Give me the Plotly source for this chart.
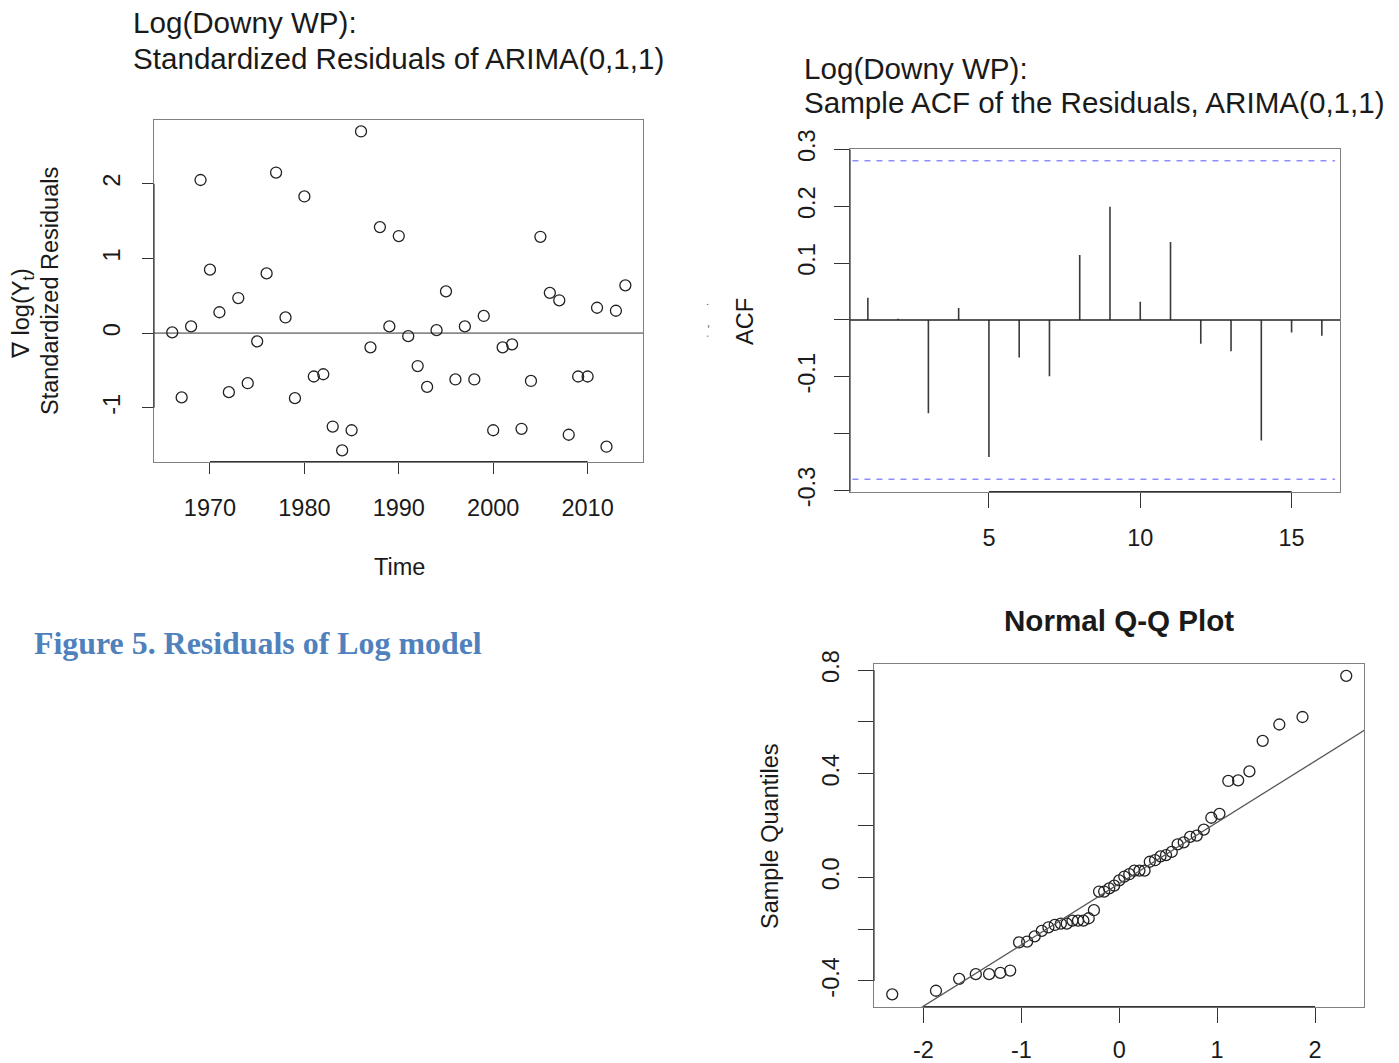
import plotly.graph_objects as go
import numpy as np
from statistics import NormalDist

# ---------------- data ----------------
years = list(range(1966, 2015))
std_resid = [0.01, -0.86, 0.09, 2.05, 0.85, 0.28, -0.79, 0.47, -0.67, -0.11,
             0.80, 2.15, 0.21, -0.87, 1.83, -0.58, -0.55, -1.25, -1.57, -1.30,
             2.70, -0.19, 1.42, 0.09, 1.30, -0.04, -0.44, -0.72, 0.04, 0.56,
             -0.62, 0.09, -0.62, 0.23, -1.30, -0.19, -0.15, -1.28, -0.64, 1.29,
             0.54, 0.44, -1.36, -0.58, -0.58, 0.34, -1.52, 0.30, 0.64]

acf_lags = list(range(1, 17))
acf_vals = [0.039, 0.002, -0.164, 0.021, -0.241, -0.066, -0.099, 0.114,
            0.199, 0.032, 0.137, -0.042, -0.055, -0.212, -0.022, -0.028]
acf_bound = 0.28

qq_sample = [-0.452, -0.438, -0.392, -0.374, -0.374, -0.369, -0.360, -0.251,
             -0.248, -0.228, -0.207, -0.193, -0.184, -0.179, -0.179, -0.167,
             -0.167, -0.167, -0.158, -0.127, -0.055, -0.055, -0.043, -0.032,
             -0.012, 0.003, 0.012, 0.026, 0.026, 0.026, 0.060, 0.066, 0.081,
             0.086, 0.098, 0.127, 0.135, 0.156, 0.161, 0.184, 0.230, 0.245,
             0.372, 0.374, 0.409, 0.527, 0.590, 0.619, 0.778]

x1_ticks = [1970, 1980, 1990, 2000, 2010]
x1_text = ["1970", "1980", "1990", "2000", "2010"]
y1_ticks = [-1, 0, 1, 2]
y1_text = ["-1", "0", "1", "2"]
x2_ticks = [5, 10, 15]
x2_text = ["5", "10", "15"]
y2_ticks = [-0.3, -0.1, 0.1, 0.2, 0.3]
y2_text = ["-0.3", "-0.1", "0.1", "0.2", "0.3"]
y2_minor = 0.1
x3_ticks = [-2, -1, 0, 1, 2]
x3_text = ["-2", "-1", "0", "1", "2"]
y3_ticks = [-0.4, 0.0, 0.4, 0.8]
y3_text = ["-0.4", "0.0", "0.4", "0.8"]
y3_minor = 0.2

# ---------------- layout helpers ----------------
W, H = 1399, 1063
FONT = "Liberation Sans, Arial, Helvetica, sans-serif"
TXT = "#1a1a1a"
BOX = "#808080"
AX = "#333333"


def px(x):
    return x / W


def py(y):
    return 1 - y / H


# QQ computations (as qqnorm / qqline do)
n = len(qq_sample)
nd = NormalDist()
qq_sorted = sorted(qq_sample)
qq_theo = [nd.inv_cdf((i + 0.5) / n) for i in range(n)]
q25, q75 = np.percentile(qq_sorted, [25, 75])
t25, t75 = nd.inv_cdf(0.25), nd.inv_cdf(0.75)
slope = (q75 - q25) / (t75 - t25)
icpt = q25 - slope * t25

x1_range = [1964.07, 2015.9]
y1_range = [-1.718, 2.86]
x2_range = [0.41, 16.6]
y2_range = [-0.302, 0.300]
x3_range = [-2.505, 2.50]
y3_range = [-0.4996, 0.8236]

fig = go.Figure()

# panel 1: standardized residuals
fig.add_trace(go.Scatter(
    x=years, y=std_resid, mode="markers", xaxis="x", yaxis="y",
    marker=dict(symbol="circle-open", size=11, color="#222222",
                line=dict(width=1.3, color="#222222")),
    showlegend=False, hoverinfo="x+y"))

# panel 2: ACF spikes
sx, sy = [], []
for lag, v in zip(acf_lags, acf_vals):
    sx += [lag, lag, None]
    sy += [0, v, None]
fig.add_trace(go.Scatter(
    x=sx, y=sy, mode="lines", xaxis="x2", yaxis="y2",
    line=dict(color="#3a3a3a", width=1.6), showlegend=False, hoverinfo="skip"))

# panel 3: QQ
fig.add_trace(go.Scatter(
    x=qq_theo, y=qq_sorted, mode="markers", xaxis="x3", yaxis="y3",
    marker=dict(symbol="circle-open", size=11, color="#222222",
                line=dict(width=1.3, color="#222222")),
    showlegend=False))
fig.add_trace(go.Scatter(
    x=[x3_range[0] - 1, x3_range[1] + 1],
    y=[icpt + slope * (x3_range[0] - 1), icpt + slope * (x3_range[1] + 1)],
    mode="lines", xaxis="x3", yaxis="y3",
    line=dict(color="#555555", width=1.3), showlegend=False, hoverinfo="skip"))


def axis(domain, rng, tickvals, ticktext, angle=None, ticklen=11, standoff=20, minor=None):
    d = dict(domain=domain, range=rng, tickmode="array", tickvals=tickvals,
             ticktext=ticktext,
             ticks="outside", ticklen=ticklen, tickwidth=1.2, tickcolor=AX,
             showline=True, linecolor=BOX, linewidth=1.3, mirror=True,
             showgrid=False, zeroline=False, automargin=False,
             tickfont=dict(family=FONT, size=23.5, color=TXT),
             ticklabelstandoff=standoff, fixedrange=True)
    if angle is not None:
        d["tickangle"] = angle
    if minor is not None:
        d["minor"] = dict(tickmode="linear", tick0=0, dtick=minor, ticks="outside",
                          ticklen=ticklen, tickwidth=1.2, tickcolor=AX, showgrid=False)
    return d


fig.update_layout(
    width=W, height=H, autosize=False,
    margin=dict(l=0, r=0, t=0, b=0),
    paper_bgcolor="white", plot_bgcolor="white",
    font=dict(family=FONT, color=TXT),
    xaxis=axis([px(154), px(643.3)], x1_range, x1_ticks, x1_text, ticklen=11, standoff=14),
    yaxis=axis([py(461.5), py(119.5)], y1_range, y1_ticks, y1_text, angle=-90, ticklen=11, standoff=12),
    xaxis2=dict(axis([px(850), px(1340)], x2_range, x2_ticks, x2_text, ticklen=15, standoff=10), anchor="y2"),
    yaxis2=dict(axis([py(491.7), py(149.3)], y2_range, y2_ticks, y2_text, angle=-90, ticklen=15,
                     standoff=9, minor=y2_minor), anchor="x2"),
    xaxis3=dict(axis([px(874), px(1364)], x3_range, x3_ticks, x3_text, ticklen=15, standoff=7), anchor="y3"),
    yaxis3=dict(axis([py(1006.7), py(664)], y3_range, y3_ticks, y3_text, angle=-90, ticklen=15,
                     standoff=9, minor=y3_minor), anchor="x3"),
)

shapes = []
# zero line panel 1
shapes.append(dict(type="line", xref="x domain", yref="y", x0=0, x1=1, y0=0, y1=0,
                   line=dict(color="#8a8a8a", width=1.6), layer="below"))
# ACF zero line and bounds
shapes.append(dict(type="line", xref="x2 domain", yref="y2", x0=0, x1=1, y0=0, y1=0,
                   line=dict(color="#222222", width=1.5)))
for b in (acf_bound, -acf_bound):
    shapes.append(dict(type="line", xref="x2 domain", yref="y2", x0=0.005, x1=0.99, y0=b, y1=b,
                       line=dict(color="#8c8cff", width=1.6, dash="6px,6px")))
# R-style darker axis segments
for xr, yr, xt, yt in (("x", "y", x1_ticks, y1_ticks),
                       ("x2", "y2", x2_ticks, y2_range),
                       ("x3", "y3", x3_ticks, y3_ticks)):
    shapes.append(dict(type="line", xref=xr, yref=yr + " domain", x0=min(xt), x1=max(xt), y0=0, y1=0,
                       line=dict(color=AX, width=1.2)))
    shapes.append(dict(type="line", xref=xr + " domain", yref=yr, x0=0, x1=0, y0=min(yt), y1=max(yt),
                       line=dict(color=AX, width=1.2)))
fig.update_layout(shapes=shapes)

ann = []


def text(x, y, s, size=29.6, xanchor="left", angle=0, bold=False, color=TXT, family=FONT):
    ann.append(dict(x=px(x), y=py(y), xref="paper", yref="paper", text=s, showarrow=False,
                    xanchor=xanchor, yanchor="middle", textangle=angle,
                    font=dict(family=family, size=size, color=color,
                              weight="bold" if bold else "normal")))


# titles
text(131, 22, "Log(Downy WP):")
text(131, 58, "Standardized Residuals of ARIMA(0,1,1)")
text(802, 68, "Log(Downy WP):")
text(802, 103, "Sample ACF of the Residuals, ARIMA(0,1,1)")
text(1119, 620, "Normal Q-Q Plot", xanchor="center", bold=True)
# axis titles
text(399, 567, "Time", size=23.5, xanchor="center")
text(22, 314, "\u2207 log(Y<sub>t</sub>)", size=23.5, xanchor="center", angle=-90)
text(50, 291, "Standardized Residuals", size=23.5, xanchor="center", angle=-90)
text(745, 322, "ACF", size=23.5, xanchor="center", angle=-90)
text(770, 836, "Sample Quantiles", size=23.5, xanchor="center", angle=-90)
# clipped fragment
text(707, 321, "·  -      ·", size=11, xanchor="center", angle=-90, color="#555555")
# caption
text(32, 643, "Figure 5. Residuals of Log model", size=31.9, bold=True, color="#4F81BD",
     family="Liberation Serif, Times New Roman, serif")
fig.update_layout(annotations=ann)

fig.write_html("out.html", config={"displayModeBar": False},
               post_script="document.body.style.margin='0';"
                           "document.body.style.overflow='hidden';"
                           "document.documentElement.style.overflow='hidden';")
